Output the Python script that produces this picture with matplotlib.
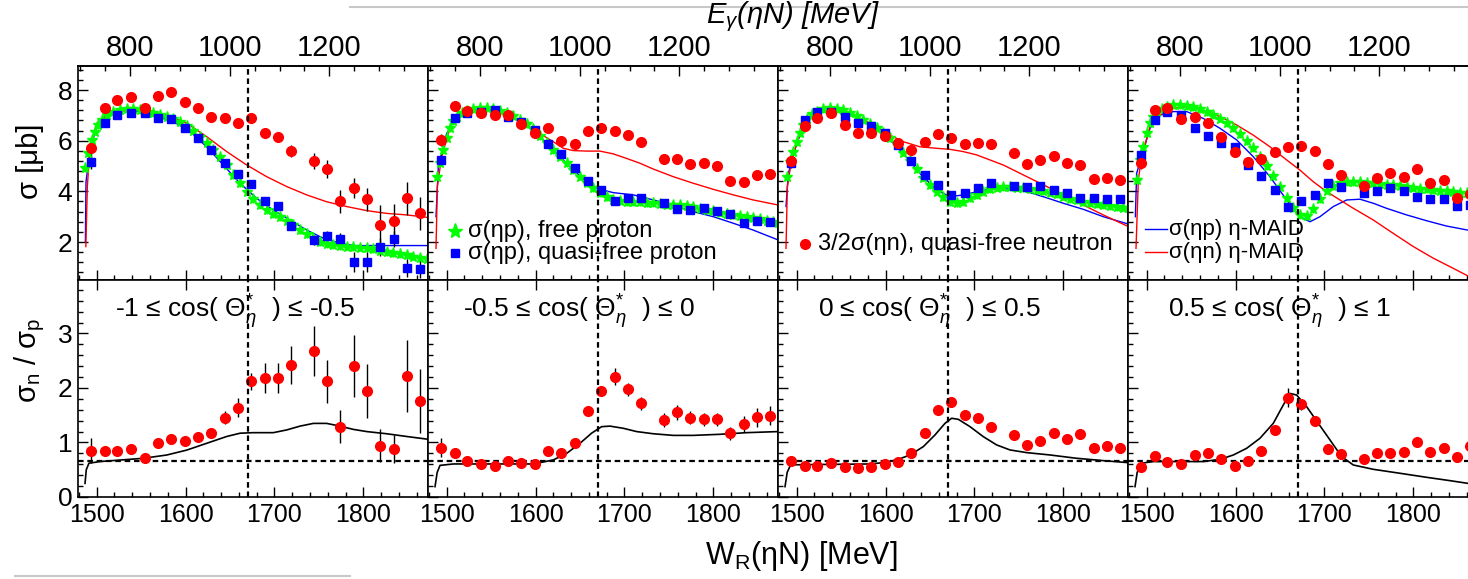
import matplotlib
matplotlib.use("Agg")
import matplotlib.pyplot as plt
from matplotlib.lines import Line2D
from matplotlib.ticker import MultipleLocator, FixedLocator, NullFormatter

plt.rcParams['font.family'] = ['Liberation Sans', 'DejaVu Sans']
plt.rcParams['mathtext.fontset'] = 'custom'
plt.rcParams['mathtext.rm'] = 'Liberation Sans'
plt.rcParams['mathtext.it'] = 'Liberation Sans:italic'
plt.rcParams['mathtext.sf'] = 'Liberation Sans'

# ---------------- data ----------------
# quasi-free W bins (MeV)
w_bins = [1494, 1509, 1523, 1539, 1554, 1569, 1584, 1599, 1614, 1629, 1644, 1659, 1674,
          1689, 1704, 1719, 1744, 1759, 1774, 1789, 1804, 1819, 1834, 1849, 1864]

# 3/2 sigma(eta n), quasi-free neutron, one list per angular bin
qf_n = [
    [5.72, 7.28, 7.61, 7.74, 7.28, 7.76, 7.93, 7.54, 7.28, 6.95, 6.88, 6.71, 6.88,
     6.32, 6.13, 5.59, 5.20, 4.87, 3.61, 4.14, 3.68, 2.67, 2.84, 3.72, 3.13],
    [6.03, 7.37, 7.17, 7.11, 7.01, 7.01, 6.65, 6.32, 6.51, 5.99, 5.86, 6.40, 6.49,
     6.40, 6.23, 5.94, 5.26, 5.26, 5.08, 5.11, 5.01, 4.42, 4.38, 4.65, 4.67],
    [5.20, 6.58, 6.91, 7.11, 6.62, 6.32, 6.29, 6.19, 5.92, 5.63, 5.96, 6.25, 6.09,
     5.87, 5.90, 5.87, 5.50, 5.07, 5.24, 5.41, 5.11, 5.04, 4.49, 4.54, 4.45],
    [5.13, 7.21, 7.28, 6.84, 6.95, 6.69, 6.16, 5.57, 5.15, 5.26, 5.57, 5.76, 5.79,
     5.59, 5.07, 4.65, 4.21, 4.54, 4.71, 4.58, 4.87, 4.32, 4.45, 3.72, 3.90],
]
err_n = [
    [0.35, 0.12, 0.10, 0.10, 0.10, 0.10, 0.10, 0.10, 0.12, 0.12, 0.12, 0.15, 0.15,
     0.20, 0.20, 0.25, 0.30, 0.35, 0.45, 0.40, 0.45, 0.80, 0.65, 0.65, 0.65],
    [0.25, 0.10, 0.10, 0.10, 0.10, 0.10, 0.10, 0.10, 0.10, 0.10, 0.10, 0.12, 0.12,
     0.12, 0.12, 0.12, 0.15, 0.15, 0.15, 0.15, 0.15, 0.18, 0.18, 0.20, 0.20],
    [0.25, 0.10, 0.10, 0.10, 0.10, 0.10, 0.10, 0.10, 0.10, 0.10, 0.10, 0.12, 0.12,
     0.12, 0.12, 0.12, 0.15, 0.15, 0.15, 0.15, 0.15, 0.18, 0.18, 0.20, 0.20],
    [0.25, 0.10, 0.10, 0.10, 0.10, 0.10, 0.10, 0.10, 0.10, 0.10, 0.10, 0.12, 0.12,
     0.12, 0.12, 0.12, 0.15, 0.15, 0.15, 0.15, 0.15, 0.18, 0.18, 0.20, 0.20],
]

# sigma(eta p), quasi-free proton
qf_p = [
    [5.15, 6.71, 7.01, 7.08, 7.08, 6.88, 6.86, 6.49, 6.12, 5.63, 5.11, 4.67, 4.29,
     3.63, 3.43, 2.64, 2.08, 2.25, 2.11, 1.20, 1.20, 1.79, 2.12, 0.96, 0.92],
    [5.24, 6.88, 7.08, 7.15, 7.21, 6.95, 6.75, 6.42, 5.86, 5.46, 4.91, 4.41, 4.05,
     3.62, 3.72, 3.72, 3.53, 3.29, 3.26, 3.36, 3.22, 3.09, 2.76, 2.83, 2.78],
    [5.11, 6.82, 7.15, 7.15, 6.95, 6.69, 6.58, 6.29, 5.83, 5.20, 4.65, 4.26, 3.86,
     3.95, 4.12, 4.32, 4.21, 4.19, 4.21, 4.05, 3.95, 3.72, 3.72, 3.69, 3.69],
    [5.43, 6.82, 7.15, 7.01, 6.49, 6.19, 5.90, 5.76, 5.04, 4.61, 4.05, 3.40, 3.62,
     3.86, 4.34, 4.16, 3.95, 4.01, 4.15, 4.01, 3.79, 3.69, 3.69, 3.42, 3.45],
]
err_p = [
    [0.25, 0.08, 0.06, 0.06, 0.06, 0.06, 0.06, 0.06, 0.06, 0.07, 0.08, 0.10, 0.12,
     0.15, 0.15, 0.15, 0.20, 0.20, 0.25, 0.40, 0.40, 0.35, 0.30, 0.35, 0.35],
    [0.20, 0.08, 0.06, 0.06, 0.06, 0.06, 0.06, 0.06, 0.06, 0.07, 0.08, 0.08, 0.08,
     0.08, 0.08, 0.08, 0.10, 0.10, 0.10, 0.10, 0.10, 0.12, 0.12, 0.12, 0.12],
    [0.20, 0.08, 0.06, 0.06, 0.06, 0.06, 0.06, 0.06, 0.06, 0.07, 0.08, 0.08, 0.08,
     0.08, 0.08, 0.08, 0.10, 0.10, 0.10, 0.10, 0.10, 0.12, 0.12, 0.12, 0.12],
    [0.20, 0.08, 0.06, 0.06, 0.06, 0.06, 0.06, 0.06, 0.06, 0.07, 0.08, 0.08, 0.08,
     0.08, 0.08, 0.08, 0.10, 0.10, 0.10, 0.10, 0.10, 0.12, 0.12, 0.12, 0.12],
]

# sigma(eta p), free proton (fine binning)
w_free_a = [1487.1, 1490.9, 1494.6, 1498.3, 1502.1, 1505.8, 1511.5, 1519.0, 1526.4, 1533.9,
            1541.4, 1548.9, 1556.4, 1563.9, 1571.4, 1578.9, 1586.4, 1593.8, 1601.3, 1608.8,
            1616.3, 1623.8, 1631.3, 1638.8, 1646.3, 1653.8, 1661.3, 1668.8, 1676.2, 1683.7,
            1691.2, 1698.7, 1706.2, 1713.7, 1721.2, 1728.7, 1736.2, 1743.7, 1751.1, 1758.6,
            1766.1, 1773.6, 1781.1, 1788.6, 1796.1, 1803.6, 1811.1, 1818.6, 1826.1, 1833.5,
            1841.0, 1848.5, 1856.0, 1863.5, 1871.0]
w_free_b = [1488.9, 1492.7, 1496.4, 1500.2, 1503.9, 1507.7, 1511.4, 1517.0, 1522.6, 1530.1,
            1537.6, 1545.1, 1552.6, 1560.1, 1567.6, 1575.1, 1582.6, 1590.1, 1597.5, 1605.0,
            1612.5, 1620.0, 1627.5, 1635.0, 1642.5, 1650.0, 1657.5, 1665.0, 1672.4, 1679.9,
            1687.4, 1694.9, 1702.4, 1709.9, 1717.4, 1724.9, 1732.4, 1739.9, 1747.4, 1754.8,
            1762.3, 1769.8, 1777.3, 1784.8, 1792.3, 1799.8, 1807.3, 1814.8, 1822.3, 1829.8,
            1837.2, 1844.7, 1852.2, 1859.7, 1867.2, 1872.8]
free_p = [
    [4.91, 5.50, 6.03, 6.36, 6.62, 6.82, 7.01, 7.15, 7.21, 7.24, 7.24, 7.21, 7.15, 7.08,
     7.01, 6.92, 6.84, 6.72, 6.58, 6.40, 6.16, 5.92, 5.63, 5.37, 5.04, 4.65, 4.32, 3.99,
     3.69, 3.46, 3.26, 3.11, 2.98, 2.84, 2.67, 2.48, 2.30, 2.15, 2.01, 1.92, 1.88, 1.84,
     1.82, 1.79, 1.78, 1.75, 1.71, 1.66, 1.61, 1.55, 1.53, 1.49, 1.42, 1.37, 1.32],
    [4.58, 5.11, 5.63, 6.09, 6.49, 6.79, 6.95, 7.08, 7.17, 7.24, 7.28, 7.28, 7.25, 7.19,
     7.11, 6.98, 6.82, 6.65, 6.45, 6.19, 5.92, 5.63, 5.37, 5.11, 4.84, 4.58, 4.34, 4.12,
     3.92, 3.76, 3.66, 3.61, 3.59, 3.59, 3.58, 3.55, 3.53, 3.50, 3.48, 3.46, 3.45, 3.42,
     3.37, 3.32, 3.26, 3.21, 3.16, 3.11, 3.07, 3.03, 2.98, 2.94, 2.90, 2.84, 2.79, 2.74],
    [4.58, 5.17, 5.57, 5.96, 6.29, 6.62, 6.84, 7.04, 7.15, 7.24, 7.28, 7.26, 7.21, 7.11,
     6.98, 6.82, 6.66, 6.49, 6.32, 6.09, 5.83, 5.53, 5.21, 4.87, 4.54, 4.26, 3.99, 3.76,
     3.59, 3.53, 3.59, 3.72, 3.86, 3.99, 4.08, 4.15, 4.16, 4.16, 4.15, 4.12, 4.09, 4.05,
     4.00, 3.95, 3.88, 3.79, 3.71, 3.65, 3.59, 3.54, 3.50, 3.46, 3.42, 3.38, 3.36, 3.33],
    [4.45, 5.24, 5.76, 6.29, 6.69, 6.95, 7.12, 7.25, 7.34, 7.40, 7.41, 7.38, 7.32, 7.24,
     7.13, 7.01, 6.87, 6.69, 6.49, 6.26, 6.00, 5.70, 5.37, 5.00, 4.61, 4.19, 3.72, 3.33,
     3.07, 3.03, 3.29, 3.70, 4.03, 4.21, 4.32, 4.37, 4.38, 4.37, 4.34, 4.32, 4.29, 4.26,
     4.24, 4.21, 4.19, 4.15, 4.11, 4.08, 4.05, 4.03, 4.00, 3.97, 3.95, 3.92, 3.90, 3.88],
]
w_free = [w_free_a, w_free_b, w_free_b, w_free_b]

# eta-MAID curves
maid_p_w = [
    [1487.5, 1488.2, 1492.7, 1500.2, 1511.5, 1530.2, 1548.9, 1567.6, 1586.4, 1605.1, 1623.8,
     1642.5, 1661.3, 1680.0, 1698.7, 1717.4, 1736.2, 1754.9, 1773.6, 1788.6, 1872.1],
    [1488.2, 1490.8, 1500.2, 1511.4, 1526.4, 1545.1, 1563.8, 1582.6, 1601.3, 1620.0, 1638.7,
     1657.5, 1672.4, 1687.4, 1709.9, 1732.4, 1754.8, 1777.3, 1799.8, 1822.3, 1844.7, 1872.8],
    [1488.2, 1490.8, 1500.2, 1511.4, 1526.4, 1545.1, 1563.8, 1582.6, 1601.3, 1620.0, 1638.7,
     1657.5, 1672.4, 1687.4, 1709.9, 1732.4, 1754.8, 1777.3, 1799.8, 1822.3, 1844.7, 1872.8],
    [1487.5, 1488.9, 1494.5, 1503.9, 1515.1, 1530.1, 1545.1, 1563.8, 1582.6, 1601.3, 1620.0,
     1638.7, 1657.5, 1672.4, 1683.7, 1694.9, 1709.9, 1724.9, 1739.9, 1754.8, 1769.8, 1792.3,
     1814.8, 1837.2, 1861.2],
]
maid_p_s = [
    [2.00, 4.38, 5.63, 6.55, 7.01, 7.21, 7.15, 6.97, 6.75, 6.36, 5.76, 5.04, 4.32, 3.72,
     3.26, 2.87, 2.47, 2.15, 1.95, 1.86, 1.86],
    [3.00, 4.98, 6.29, 6.95, 7.19, 7.21, 7.08, 6.79, 6.29, 5.63, 4.97, 4.38, 4.08, 3.95,
     3.86, 3.66, 3.46, 3.20, 3.00, 2.74, 2.47, 2.08],
    [3.40, 4.71, 5.90, 6.82, 7.15, 7.19, 7.01, 6.62, 6.16, 5.50, 4.71, 4.05, 3.79, 3.86,
     4.05, 4.12, 4.03, 3.79, 3.53, 3.29, 3.00, 2.71],
    [3.00, 4.71, 5.37, 6.49, 7.01, 7.15, 7.15, 6.88, 6.49, 6.03, 5.37, 4.58, 3.66, 3.00,
     2.80, 3.00, 3.40, 3.66, 3.69, 3.53, 3.33, 3.07, 2.84, 2.63, 2.47],
]
maid_n_w = [
    [1488.0, 1489.7, 1492.7, 1500.2, 1515.2, 1553.8, 1578.9, 1601.3, 1623.8, 1646.3, 1668.8,
     1691.2, 1713.7, 1736.2, 1758.6, 1781.1, 1803.6, 1826.1, 1848.5, 1872.1],
    [1488.2, 1489.7, 1494.5, 1507.7, 1526.4, 1545.1, 1563.8, 1582.6, 1601.3, 1620.0, 1631.3,
     1642.5, 1657.5, 1672.4, 1687.4, 1702.4, 1717.4, 1732.4, 1754.8, 1777.3, 1799.8, 1822.3,
     1844.7, 1872.8],
    [1488.2, 1489.7, 1494.5, 1507.7, 1526.4, 1545.1, 1563.8, 1582.6, 1601.3, 1620.0, 1638.7,
     1657.5, 1672.4, 1687.4, 1702.4, 1717.4, 1732.4, 1754.8, 1777.3, 1799.8, 1822.3, 1844.7,
     1872.8],
    [1488.2, 1490.8, 1494.5, 1503.9, 1515.1, 1530.1, 1545.1, 1563.8, 1582.6, 1601.3, 1620.0,
     1638.7, 1657.5, 1672.4, 1687.4, 1702.4, 1717.4, 1732.4, 1754.8, 1777.3, 1799.8, 1822.3,
     1844.7, 1861.2, 1872.8],
]
maid_n_s = [
    [1.82, 4.19, 5.76, 6.69, 7.15, 7.21, 7.01, 6.69, 6.16, 5.57, 5.04, 4.58, 4.19, 3.86,
     3.59, 3.40, 3.24, 3.13, 3.07, 2.97],
    [1.75, 4.19, 5.37, 6.95, 7.21, 7.21, 7.08, 6.75, 6.36, 5.96, 5.70, 5.61, 5.59, 5.59,
     5.48, 5.30, 5.11, 4.88, 4.58, 4.32, 4.08, 3.86, 3.66, 3.46],
    [1.75, 4.19, 5.24, 6.69, 7.15, 7.21, 7.01, 6.69, 6.29, 5.96, 5.76, 5.70, 5.66, 5.57,
     5.44, 5.24, 5.04, 4.65, 4.26, 3.86, 3.46, 3.07, 2.61],
    [1.75, 4.45, 5.37, 6.55, 7.01, 7.28, 7.34, 7.21, 6.95, 6.62, 6.22, 5.76, 5.24, 4.84,
     4.38, 3.99, 3.66, 3.33, 2.87, 2.34, 1.82, 1.36, 0.96, 0.66, 0.45],
]

# sigma_n / sigma_p ratios
ratio = [
    [0.85, 0.85, 0.85, 0.875, 0.71, 0.985, 1.06, 1.03, 1.095, 1.18, 1.455, 1.64, 2.12,
     2.18, 2.18, 2.42, 2.685, 2.12, 1.29, 2.40, 1.945, 0.94, 0.88, 2.22, 1.76],
    [0.906, 0.80, 0.66, 0.606, 0.575, 0.66, 0.618, 0.60, 0.85, 0.814, 0.997, 1.58, 1.945,
     2.208, 1.976, 1.72, 1.413, 1.554, 1.456, 1.425, 1.425, 1.169, 1.34, 1.462, 1.493],
    [0.661, 0.569, 0.575, 0.618, 0.545, 0.539, 0.545, 0.60, 0.649, 0.80, 1.169, 1.597, 1.75,
     1.505, 1.456, 1.291, 1.138, 0.955, 1.034, 1.169, 1.065, 1.15, 0.906, 0.942, 0.906],
    [0.557, 0.753, 0.636, 0.606, 0.771, 0.80, 0.691, 0.575, 0.667, 0.844, 1.23, 1.823, 1.70,
     1.401, 0.875, 0.789, 0.698, 0.80, 0.80, 0.82, 1.016, 0.832, 0.906, 0.728, 0.936],
]
ratio_err = [
    [0.23, 0.05, 0.05, 0.05, 0.05, 0.06, 0.06, 0.06, 0.07, 0.08, 0.12, 0.17, 0.15, 0.28,
     0.28, 0.35, 0.46, 0.40, 0.30, 0.57, 0.50, 0.30, 0.25, 0.66, 0.58],
    [0.17, 0.05, 0.04, 0.04, 0.04, 0.04, 0.04, 0.04, 0.05, 0.05, 0.06, 0.08, 0.10, 0.15,
     0.12, 0.12, 0.12, 0.14, 0.12, 0.12, 0.12, 0.12, 0.14, 0.17, 0.17],
    [0.08, 0.04, 0.04, 0.04, 0.04, 0.04, 0.04, 0.04, 0.04, 0.05, 0.06, 0.07, 0.08, 0.07,
     0.07, 0.07, 0.07, 0.07, 0.07, 0.07, 0.07, 0.08, 0.08, 0.08, 0.08],
    [0.08, 0.05, 0.04, 0.04, 0.05, 0.05, 0.05, 0.05, 0.05, 0.06, 0.08, 0.17, 0.10, 0.08,
     0.07, 0.07, 0.07, 0.07, 0.07, 0.07, 0.08, 0.08, 0.08, 0.08, 0.08],
]
ratio_maid_w = [
    [1487.1, 1488.5, 1491.5, 1504.0, 1552.6, 1578.9, 1601.3, 1623.8, 1646.3, 1661.3, 1676.2,
     1698.7, 1713.7, 1728.7, 1743.7, 1758.6, 1773.6, 1788.6, 1803.6, 1826.1, 1848.5, 1872.1],
    [1487.1, 1489.5, 1492.7, 1507.7, 1597.5, 1605.0, 1620.0, 1635.0, 1650.0, 1663.0, 1674.3,
     1683.7, 1698.7, 1713.6, 1732.4, 1754.8, 1777.3, 1807.3, 1837.2, 1872.8],
    [1487.1, 1489.5, 1493.4, 1582.6, 1597.5, 1612.5, 1627.5, 1642.5, 1655.6, 1666.8, 1674.3,
     1681.8, 1694.9, 1709.9, 1724.9, 1739.9, 1758.6, 1784.8, 1814.8, 1844.7, 1872.8],
    [1487.1, 1489.5, 1494.5, 1507.7, 1563.8, 1582.6, 1597.5, 1612.5, 1627.5, 1642.5, 1653.7,
     1661.2, 1668.7, 1679.9, 1693.0, 1706.2, 1719.3, 1732.4, 1754.8, 1784.8, 1814.8, 1841.0,
     1861.2, 1872.8],
]
ratio_maid = [
    [0.25, 0.50, 0.62, 0.65, 0.71, 0.77, 0.86, 0.985, 1.11, 1.17, 1.18, 1.18, 1.23, 1.30,
     1.35, 1.35, 1.30, 1.24, 1.20, 1.16, 1.11, 1.06],
    [0.19, 0.45, 0.58, 0.606, 0.606, 0.63, 0.68, 0.80, 0.985, 1.17, 1.29, 1.30, 1.26, 1.20,
     1.16, 1.13, 1.13, 1.15, 1.18, 1.20],
    [0.19, 0.45, 0.59, 0.606, 0.63, 0.68, 0.77, 0.924, 1.138, 1.35, 1.444, 1.425, 1.291,
     1.107, 0.955, 0.863, 0.814, 0.771, 0.71, 0.667, 0.63],
    [0.19, 0.45, 0.62, 0.65, 0.65, 0.69, 0.77, 0.893, 1.077, 1.352, 1.688, 1.90, 1.87,
     1.658, 1.352, 1.046, 0.74, 0.587, 0.508, 0.435, 0.361, 0.30, 0.25, 0.22],
]

bin_labels = [
    '-1 ≤ cos( $\\Theta^{*}_{\\eta}$  ) ≤ -0.5',
    '-0.5 ≤ cos( $\\Theta^{*}_{\\eta}$  ) ≤ 0',
    '0 ≤ cos( $\\Theta^{*}_{\\eta}$  ) ≤ 0.5',
    '0.5 ≤ cos( $\\Theta^{*}_{\\eta}$  ) ≤ 1',
]
eg_ticks = [800, 1000, 1200]

W_STRUCT = 1670        # narrow structure position
RATIO_ISO = 2.0 / 3.0  # sigma_n / sigma_p reference
W_LO, W_HI = 1479.2, 1872.5
M_N = 938.9

# top axis: linear E_gamma scale matched to the W limits
EG_LO = (W_LO**2 - M_N**2) / (2 * M_N)
EG_HI = (W_HI**2 - M_N**2) / (2 * M_N)


def w_to_eg(w):
    return EG_LO + (w - W_LO) * (EG_HI - EG_LO) / (W_HI - W_LO)


def eg_to_w(e):
    return W_LO + (e - EG_LO) * (W_HI - W_LO) / (EG_HI - EG_LO)


# ---------------- figure ----------------
FW, FH = 1468, 579
fig = plt.figure(figsize=(FW / 100, FH / 100), dpi=100)


def px_box(x0, ytop, ybot, w=350):
    return [x0 / FW, 1 - ybot / FH, w / FW, (ybot - ytop) / FH]


col_x = [78, 428, 778, 1128]
dash = (0, (2.5, 1.7))


def style_axes(ax):
    for sp in ax.spines.values():
        sp.set_linewidth(1.2)
    ax.set_xlim(W_LO, W_HI)
    ax.xaxis.set_major_locator(MultipleLocator(100))
    ax.xaxis.set_minor_locator(MultipleLocator(20))
    ax.tick_params(which='both', direction='in', right=False, width=1)
    ax.tick_params(which='major', length=7)
    ax.tick_params(which='minor', length=3.5)


for i in range(4):
    # ---- top row: cross sections ----
    ax = fig.add_axes(px_box(col_x[i], 66, 280))
    style_axes(ax)
    ax.set_ylim(0.5, 8.95)
    ax.yaxis.set_major_locator(MultipleLocator(2))
    ax.yaxis.set_minor_locator(MultipleLocator(0.4))
    ax.tick_params(top=False)
    ax.xaxis.set_major_formatter(NullFormatter())
    if i == 0:
        ax.tick_params(axis='y', labelsize=19, pad=4)
    else:
        ax.yaxis.set_major_formatter(NullFormatter())

    ax.plot(maid_p_w[i], maid_p_s[i], color='blue', lw=1)
    ax.plot(maid_n_w[i], maid_n_s[i], color='red', lw=1)
    ax.errorbar(w_free[i], free_p[i], yerr=0.15, fmt='*', color='#00ff00', ms=8,
                mec='#00ff00', elinewidth=1, capsize=0)
    ax.errorbar(w_bins, qf_p[i], yerr=err_p[i], fmt='s', color='blue', ms=6,
                ecolor='black', elinewidth=1, capsize=0)
    ax.errorbar(w_bins, qf_n[i], yerr=err_n[i], fmt='o', color='red', ms=7,
                ecolor='black', elinewidth=1, capsize=0)
    ax.axvline(W_STRUCT, color='black', ls=dash, lw=1.6, zorder=6)

    sec = ax.secondary_xaxis('top', functions=(w_to_eg, eg_to_w))
    sec.xaxis.set_major_locator(FixedLocator(eg_ticks))
    sec.xaxis.set_minor_locator(MultipleLocator(50))
    sec.xaxis.set_minor_formatter(NullFormatter())
    sec.tick_params(which='both', direction='in', labelsize=21, pad=3, width=1)
    sec.tick_params(which='major', length=7)
    sec.tick_params(which='minor', length=3.5)
    sec.spines['top'].set_linewidth(1.2)

    if i == 1:
        ax.plot([0.077], [0.229], marker='*', ms=11, color='#00ff00', transform=ax.transAxes)
        ax.text(0.114, 0.229, 'σ(ηp), free proton', transform=ax.transAxes,
                va='center', fontsize=17)
        ax.plot([0.077], [0.126], marker='s', ms=6, color='blue', transform=ax.transAxes)
        ax.text(0.114, 0.126, 'σ(ηp), quasi-free proton', transform=ax.transAxes,
                va='center', fontsize=17)
    elif i == 2:
        ax.plot([0.077], [0.168], marker='o', ms=7, color='red', transform=ax.transAxes)
        ax.text(0.114, 0.168, '3/2σ(ηn), quasi-free neutron', transform=ax.transAxes,
                va='center', fontsize=17)
    elif i == 3:
        ax.plot([0.049, 0.11], [0.236, 0.236], color='blue', lw=1, transform=ax.transAxes)
        ax.text(0.118, 0.236, 'σ(ηp) η-MAID', transform=ax.transAxes,
                va='center', fontsize=16)
        ax.plot([0.049, 0.11], [0.130, 0.130], color='red', lw=1, transform=ax.transAxes)
        ax.text(0.118, 0.130, 'σ(ηn) η-MAID', transform=ax.transAxes,
                va='center', fontsize=16)

    # ---- bottom row: ratios ----
    bx = fig.add_axes(px_box(col_x[i], 280, 497))
    style_axes(bx)
    bx.set_ylim(0, 3.98)
    bx.yaxis.set_major_locator(MultipleLocator(1))
    bx.yaxis.set_minor_locator(MultipleLocator(0.2))
    bx.tick_params(top=True)
    bx.tick_params(axis='x', labelsize=18, pad=4)
    if i == 0:
        bx.tick_params(axis='y', labelsize=19, pad=4)
    else:
        bx.yaxis.set_major_formatter(NullFormatter())

    bx.plot(ratio_maid_w[i], ratio_maid[i], color='black', lw=1.2)
    bx.axhline(RATIO_ISO, color='black', ls=dash, lw=1.6)
    bx.axvline(W_STRUCT, color='black', ls=dash, lw=1.6, zorder=6)
    bx.errorbar(w_bins, ratio[i], yerr=ratio_err[i], fmt='o', color='red', ms=7,
                ecolor='black', elinewidth=1, capsize=0, zorder=4)
    bx.text([0.106, 0.100, 0.114, 0.114][i], 0.855, bin_labels[i], transform=bx.transAxes,
            va='center', fontsize=19)

# axis titles
fig.text(30 / FW, 1 - 161 / FH, 'σ [μb]', rotation=90, ha='center', va='center', fontsize=21)
fig.text(30 / FW, 1 - 360 / FH, 'σ$_\\mathrm{n}$ / σ$_\\mathrm{p}$', rotation=90,
         ha='center', va='center', fontsize=21)
fig.text(801 / FW, 1 - 556 / FH, 'W$_\\mathrm{R}$(ηN) [MeV]', ha='center', va='center',
         fontsize=22)
fig.text(793 / FW, 1 - 17 / FH, 'E$_{\\gamma}$(ηN) [MeV]', ha='center', va='center',
         fontsize=21, style='italic')

# page-edge remnants of the screenshot
fig.add_artist(Line2D([350 / FW, 1.0], [1 - 7 / FH] * 2, color='#c8c8c8', lw=1.5))
fig.add_artist(Line2D([15 / FW, 350 / FW], [1 - 576 / FH] * 2, color='#c8c8c8', lw=1.5))

fig.savefig('out.png', dpi=100)
